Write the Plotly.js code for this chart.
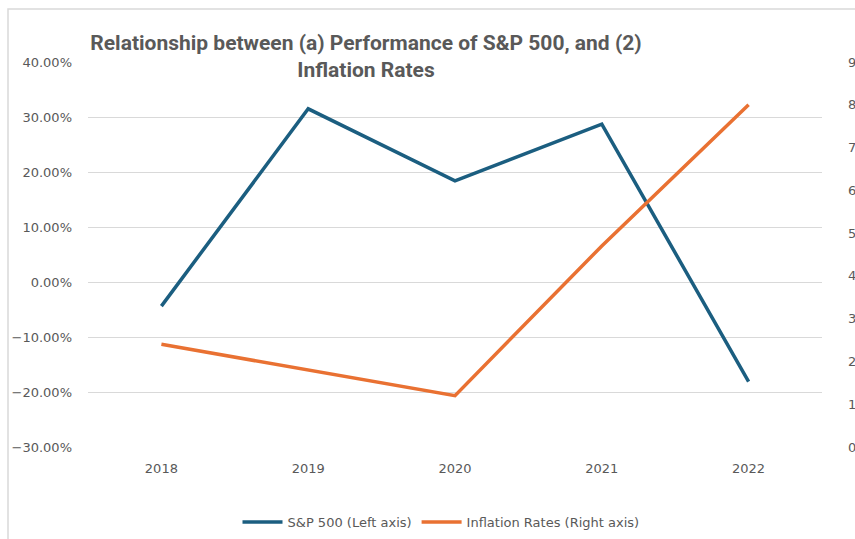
<!DOCTYPE html>
<html><head><meta charset="utf-8">
<script src="https://cdn.plot.ly/plotly-3.0.1.min.js"></script>
<style>html,body{margin:0;padding:0;overflow:hidden;background:#fff}</style>
</head><body><div id="chart" style="width:855px;height:539px"></div>
<script>
const years = ['2018','2019','2020','2021','2022'];
const sp500 = [-0.0438, 0.3149, 0.1840, 0.2871, -0.1811];
const inflation = [2.4, 1.8, 1.2, 4.7, 8.0];
const leftTicks = [-0.3,-0.2,-0.1,0,0.1,0.2,0.3,0.4];
const rightTicks = [0,1,2,3,4,5,6,7,8,9];
const rightTickText = ['0.00%','1.00%','2.00%','3.00%','4.00%','5.00%','6.00%','7.00%','8.00%','9.00%'];
const grey = '#595959';
const tickFont = {family:'DejaVu Sans, sans-serif', size:13, color:grey};
const traces = [
 {x: years, y: sp500, type:'scatter', mode:'lines', name:'S&P 500 (Left axis)',
  line:{color:'#1B5E80', width:3.5}, yaxis:'y'},
 {x: years, y: inflation, type:'scatter', mode:'lines', name:'Inflation Rates (Right axis)',
  line:{color:'#E97132', width:3.5}, yaxis:'y2'}
];
const layout = {
 width:855, height:539,
 margin:{l:88, r:33, t:62, b:92},
 paper_bgcolor:'#fff', plot_bgcolor:'#fff',
 font:tickFont,
 separators:'.,',
 title:{text:'Relationship between (a) Performance of S&P 500, and (2)<br>Inflation Rates',
   font:{family:'Liberation Sans Narrow, Roboto, sans-serif', size:21, color:grey, weight:'bold'},
   xref:'paper', x:(366-88)/734, xanchor:'center', yref:'container', y:1-50/539, yanchor:'top'},
 xaxis:{type:'category', range:[-0.5,4.5], showgrid:false, zeroline:false, showline:false,
   ticks:'', ticklabelstandoff:12, tickfont:tickFont},
 yaxis:{range:[-0.3,0.4], tickvals:leftTicks, tickformat:'.2%', showgrid:true, gridcolor:'#d9d9d9',
   gridwidth:1, zeroline:false, showline:false, ticks:'', ticklabelstandoff:15, tickfont:tickFont},
 yaxis2:{range:[0,9], tickvals:rightTicks, ticktext:rightTickText, overlaying:'y', side:'right',
   showgrid:false, zeroline:false, showline:false, ticks:'', ticklabelstandoff:25, tickfont:tickFont},
 showlegend:true,
 legend:{orientation:'h', x:441/855, xref:'container', xanchor:'center', y:1-507/539, yref:'container', yanchor:'top',
   font:tickFont, itemwidth:40, tracegroupgap:0, traceorder:'normal'},
 shapes:[{type:'rect', xref:'paper', yref:'paper', x0:-80/734, x1:2, y0:-2, y1:1+53/385,
   line:{color:'#d9d9d9', width:1.5}, fillcolor:'rgba(0,0,0,0)', layer:'below'}]
};
Plotly.newPlot('chart', traces, layout, {displayModeBar:false, staticPlot:true});
</script></body></html>
